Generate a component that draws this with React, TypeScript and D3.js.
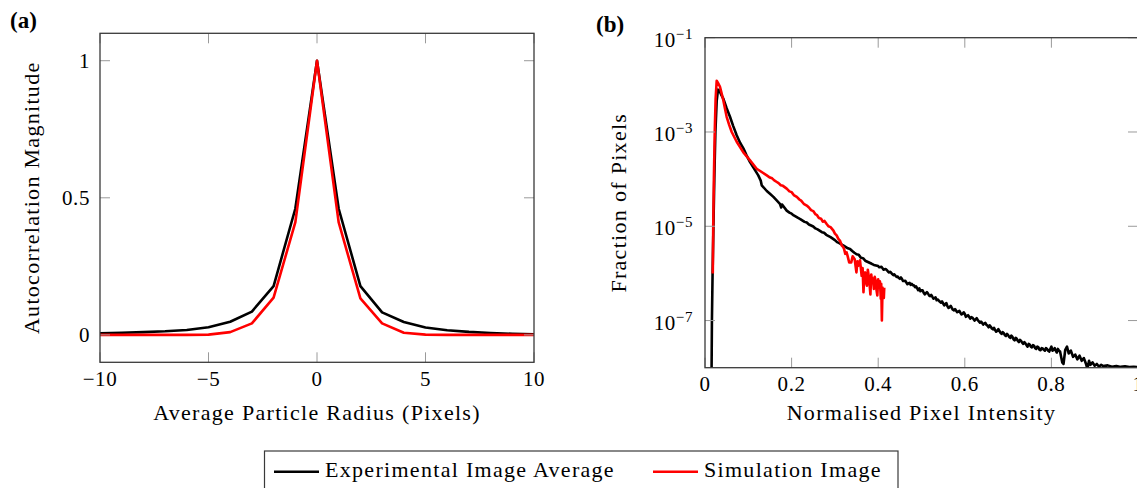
import React from 'react';
import * as d3 from 'd3';

// (a) autocorrelation, sampled at integer pixel offsets
const radiusPx = [-10, -9, -8, -7, -6, -5, -4, -3, -2, -1, 0, 1, 2, 3, 4, 5, 6, 7, 8, 9, 10];
const expAutocorr = [0.006, 0.008, 0.010, 0.013, 0.018, 0.028, 0.048, 0.085, 0.178, 0.46, 1, 0.46, 0.178, 0.082, 0.047, 0.027, 0.017, 0.011, 0.007, 0.004, 0.002];
const simAutocorr = [0, 0, 0, 0, 0, 0.001, 0.01, 0.042, 0.136, 0.41, 1, 0.41, 0.133, 0.042, 0.008, 0.001, 0, 0, 0, 0, 0];

const radiusTicks = [-10, -5, 0, 5, 10];
const autocorrTicks = [0, 0.5, 1];

// (b) intensity histograms [normalised intensity, fraction of pixels]
const expHist: [number, number][] = [
  [0.015, 5e-9], [0.016, 1e-7], [0.0175, 1e-6], [0.0195, 1e-5], [0.0215, 1e-4], [0.024, 1e-3],
  [0.027, 4.5e-3], [0.030, 7.9e-3], [0.033, 7.6e-3], [0.037, 6.3e-3], [0.0423, 5.1e-3], [0.050, 3.2e-3],
  [0.0577, 2.1e-3], [0.065, 1.35e-3], [0.0732, 8.5e-4], [0.081, 5.9e-4], [0.0886, 4.5e-4], [0.096, 3.2e-4],
  [0.104, 2.3e-4], [0.1155, 1.55e-4], [0.123, 1.2e-4], [0.1287, 9.3e-5], [0.131, 7.4e-5], [0.1427, 5.6e-5],
  [0.150, 4.9e-5], [0.158, 4.2e-5], [0.165, 3.6e-5], [0.173, 3.0e-5], [0.176, 2.5e-5], [0.178, 2.9e-5],
  [0.1887, 2.15e-5], [0.195, 1.95e-5], [0.200, 1.85e-5], [0.205, 1.7e-5], [0.210, 1.6e-5], [0.215, 1.5e-5],
  [0.220, 1.42e-5], [0.230, 1.24e-5], [0.235, 1.2e-5], [0.240, 1.09e-5], [0.250, 9.9e-6], [0.255, 9.0e-6],
  [0.260, 8.6e-6], [0.270, 7.5e-6], [0.275, 7.3e-6], [0.280, 6.6e-6], [0.290, 5.9e-6], [0.300, 5.1e-6],
  [0.305, 4.6e-6], [0.310, 4.4e-6], [0.320, 3.9e-6], [0.330, 3.4e-6], [0.335, 3.3e-6], [0.340, 3.0e-6],
  [0.345, 2.75e-6], [0.350, 2.55e-6], [0.355, 2.5e-6], [0.360, 2.14e-6], [0.365, 2.1e-6], [0.370, 1.86e-6],
  [0.380, 1.68e-6], [0.385, 1.6e-6], [0.390, 1.51e-6], [0.400, 1.43e-6], [0.405, 1.36e-6], [0.410, 1.29e-6],
  [0.415, 1.22e-6], [0.420, 1.17e-6], [0.425, 1.05e-6], [0.430, 1.03e-6], [0.435, 9.2e-7], [0.440, 8.9e-7],
  [0.450, 7.7e-7], [0.455, 7.6e-7], [0.460, 6.9e-7], [0.465, 6.4e-7], [0.470, 6.2e-7], [0.480, 5.6e-7],
  [0.485, 5.1e-7], [0.490, 4.8e-7], [0.500, 4.4e-7], [0.505, 3.9e-7], [0.510, 3.8e-7], [0.515, 3.75e-7],
  [0.520, 3.3e-7], [0.525, 3.2e-7], [0.530, 3.0e-7], [0.535, 2.7e-7], [0.540, 2.65e-7], [0.545, 2.4e-7],
  [0.550, 2.3e-7], [0.555, 2.25e-7], [0.560, 2.0e-7], [0.565, 1.95e-7], [0.570, 1.85e-7], [0.575, 1.65e-7],
  [0.580, 1.62e-7], [0.585, 1.55e-7], [0.590, 1.45e-7], [0.595, 1.4e-7], [0.600, 1.38e-7], [0.605, 1.25e-7],
  [0.610, 1.2e-7], [0.615, 1.18e-7], [0.620, 1.08e-7], [0.625, 1.06e-7], [0.630, 1.02e-7], [0.635, 9.0e-8],
  [0.640, 8.9e-8], [0.645, 8.6e-8], [0.650, 8.1e-8], [0.655, 7.2e-8], [0.660, 7.4e-8], [0.665, 6.5e-8],
  [0.670, 6.3e-8], [0.675, 6.0e-8], [0.680, 6.0e-8], [0.685, 5.2e-8], [0.690, 5.4e-8], [0.695, 4.7e-8],
  [0.700, 4.9e-8], [0.705, 4.3e-8], [0.710, 4.5e-8], [0.715, 3.8e-8], [0.720, 4.1e-8], [0.725, 3.5e-8],
  [0.730, 3.7e-8], [0.735, 3.2e-8], [0.740, 3.3e-8], [0.745, 2.8e-8], [0.750, 3.1e-8], [0.755, 2.7e-8],
  [0.760, 2.9e-8], [0.765, 2.5e-8], [0.770, 2.7e-8], [0.775, 2.35e-8], [0.780, 2.55e-8], [0.785, 2.3e-8],
  [0.790, 2.5e-8], [0.795, 2.2e-8], [0.800, 2.8e-8], [0.805, 2.4e-8], [0.810, 2.3e-8], [0.815, 2.5e-8],
  [0.820, 2.2e-8], [0.825, 1.3e-8], [0.828, 1.2e-8], [0.832, 2.4e-8], [0.836, 2.8e-8], [0.840, 2.0e-8],
  [0.845, 2.3e-8], [0.850, 1.7e-8], [0.855, 1.9e-8], [0.860, 1.5e-8], [0.865, 1.8e-8], [0.870, 1.4e-8],
  [0.875, 1.6e-8], [0.880, 1.2e-8], [0.883, 0.95e-8], [0.887, 1.4e-8], [0.890, 1.15e-8], [0.895, 1.3e-8],
  [0.900, 1.1e-8], [0.905, 1.2e-8], [0.910, 1.05e-8], [0.915, 1.15e-8], [0.920, 1.08e-8], [0.930, 1.12e-8],
  [0.940, 1.05e-8], [0.950, 1.09e-8], [0.960, 1.04e-8], [0.970, 1.07e-8], [0.980, 1.03e-8], [0.990, 1.05e-8],
  [1.000, 1.03e-8],
];

// extra readings between the bins above, where the measured tail is noisy
const expHistNoise: [number, number][] = [
  [0.4025, 1.35e-6], [0.4075, 1.38e-6], [0.4125, 1.2e-6], [0.4175, 1.24e-6], [0.4225, 1.1e-6], [0.4275, 1.08e-6],
  [0.4325, 9.7e-7], [0.4375, 9.5e-7], [0.4425, 8.4e-7], [0.445, 8.6e-7], [0.4475, 8.0e-7], [0.4525, 8.2e-7],
  [0.4575, 6.9e-7], [0.4625, 7.0e-7], [0.4675, 5.9e-7], [0.4725, 6.3e-7], [0.475, 5.7e-7], [0.4775, 6.0e-7],
  [0.4825, 5.6e-7], [0.4875, 5.3e-7], [0.4925, 4.4e-7], [0.495, 4.8e-7], [0.4975, 4.2e-7], [0.5025, 4.4e-7],
  [0.5075, 3.6e-7], [0.5125, 4.0e-7], [0.5175, 3.4e-7], [0.5225, 3.5e-7], [0.5275, 2.9e-7], [0.5325, 3.1e-7],
  [0.5375, 2.8e-7], [0.5425, 2.5e-7], [0.5475, 2.55e-7], [0.5525, 2.1e-7], [0.5575, 2.35e-7], [0.5625, 1.85e-7],
  [0.5675, 2.05e-7], [0.5725, 1.7e-7], [0.5775, 1.75e-7], [0.5825, 1.5e-7], [0.5875, 1.6e-7], [0.5925, 1.35e-7],
  [0.5975, 1.5e-7], [0.6025, 1.2e-7], [0.6075, 1.3e-7], [0.6125, 1.1e-7], [0.6175, 1.15e-7], [0.6225, 1.0e-7],
  [0.6275, 1.12e-7], [0.6325, 9.6e-8], [0.6375, 9.5e-8], [0.6425, 8.2e-8], [0.6475, 8.9e-8], [0.6525, 7.8e-8],
  [0.6575, 7.9e-8], [0.6625, 6.8e-8], [0.6675, 7.0e-8], [0.6725, 5.8e-8], [0.6775, 6.6e-8], [0.6825, 5.5e-8],
  [0.6875, 5.7e-8], [0.6925, 4.9e-8], [0.6975, 5.2e-8], [0.7025, 4.5e-8], [0.7075, 4.8e-8], [0.7125, 4.0e-8],
  [0.7175, 4.3e-8], [0.7225, 3.7e-8], [0.7275, 3.9e-8], [0.7325, 3.4e-8], [0.7375, 3.5e-8], [0.7425, 3.0e-8],
  [0.7475, 3.2e-8], [0.7525, 2.8e-8], [0.7575, 3.0e-8], [0.7625, 2.6e-8], [0.7675, 2.8e-8], [0.7725, 2.4e-8],
  [0.7775, 2.6e-8], [0.7825, 2.4e-8], [0.7875, 2.6e-8], [0.7925, 2.3e-8], [0.7975, 2.5e-8], [0.8025, 2.3e-8],
  [0.8075, 2.6e-8], [0.8125, 2.1e-8], [0.8175, 2.3e-8],
];

const simHist: [number, number][] = [
  [0.018, 1.0e-6], [0.019, 1e-5], [0.0205, 1e-4], [0.0225, 1e-3], [0.0245, 5e-3], [0.027, 1.22e-2],
  [0.030, 1.1e-2], [0.0346, 9.1e-3], [0.0385, 6.5e-3], [0.0423, 4.7e-3], [0.046, 3.2e-3], [0.050, 2.1e-3],
  [0.056, 1.4e-3], [0.0617, 1.0e-3], [0.0732, 6.2e-4], [0.0886, 3.7e-4], [0.104, 2.5e-4], [0.1193, 1.66e-4],
  [0.1427, 1.2e-4], [0.150, 1.08e-4], [0.155, 1.04e-4], [0.160, 9.4e-5], [0.1658, 8.7e-5], [0.170, 8.2e-5],
  [0.175, 7.4e-5], [0.180, 7.2e-5], [0.1887, 6.3e-5], [0.195, 5.5e-5], [0.200, 5.3e-5], [0.205, 4.6e-5],
  [0.212, 4.2e-5], [0.218, 3.7e-5], [0.222, 3.5e-5], [0.228, 3.0e-5], [0.235, 2.75e-5], [0.240, 2.5e-5],
  [0.245, 2.2e-5], [0.250, 2.1e-5], [0.255, 1.8e-5], [0.258, 1.75e-5], [0.263, 1.5e-5], [0.268, 1.45e-5],
  [0.272, 1.25e-5], [0.276, 1.3e-5], [0.281, 1.12e-5], [0.285, 1.0e-5], [0.290, 9.6e-6], [0.2966, 8.1e-6],
  [0.300, 7.0e-6], [0.304, 6.4e-6], [0.308, 5.4e-6], [0.312, 4.9e-6], [0.316, 3.9e-6], [0.3195, 3.6e-6],
  [0.3216, 3.2e-6], [0.324, 2.6e-6], [0.327, 2.8e-6], [0.3296, 2.3e-6], [0.333, 1.7e-6], [0.3377, 1.7e-6],
  [0.341, 2.3e-6], [0.3457, 2.0e-6], [0.3497, 1.05e-6], [0.352, 1.8e-6], [0.354, 1.45e-6], [0.358, 1.9e-6],
  [0.3618, 8.9e-7], [0.364, 1.3e-6], [0.366, 4.0e-7], [0.368, 9e-7], [0.370, 1.05e-6], [0.372, 6.5e-7],
  [0.374, 5.5e-7], [0.376, 1.2e-6], [0.378, 8.9e-7], [0.380, 6e-7], [0.382, 3.6e-7], [0.384, 9.5e-7],
  [0.386, 6.5e-7], [0.388, 7.8e-7], [0.390, 4.7e-7], [0.392, 8.5e-7], [0.394, 7.1e-7], [0.396, 4.5e-7],
  [0.398, 3.4e-7], [0.400, 7.5e-7], [0.402, 5.5e-7], [0.404, 6.8e-7], [0.406, 2.9e-7], [0.407, 6.0e-7],
  [0.4085, 1.0e-7], [0.410, 5.0e-7], [0.4117, 4.0e-7], [0.413, 3.0e-7], [0.414, 5.0e-7],
];

const intensityTicks = [0, 0.2, 0.4, 0.6, 0.8, 1];
const fractionExps = [-1, -3, -5, -7];

const legendItems = [
  { label: 'Experimental Image Average', color: '#000000' },
  { label: 'Simulation Image', color: '#ff0000' },
];

const FONT = '"Liberation Serif", "Times New Roman", serif';
const FRAME = '#3a3a3a';
const TICK = '#9a9a9a';
const TICK_LEN = 10;
const LS = 1.3; // letter spacing to get closer to the width of Computer Modern

// shared box with inside ticks on all four sides
function Frame({ x, y, xTicks, yTicks }: { x: any; y: any; xTicks: number[]; yTicks: number[] }) {
  const [x0, x1] = x.range();
  const [y0, y1] = y.range();
  return (
    <g>
      {xTicks.map((t, i) => (
        <g key={'x' + i} stroke={TICK} strokeWidth={1}>
          <line x1={x(t)} x2={x(t)} y1={y0} y2={y0 - TICK_LEN} />
          <line x1={x(t)} x2={x(t)} y1={y1} y2={y1 + TICK_LEN} />
        </g>
      ))}
      {yTicks.map((t, i) => (
        <g key={'y' + i} stroke={TICK} strokeWidth={1}>
          <line x1={x0} x2={x0 + TICK_LEN} y1={y(t)} y2={y(t)} />
          <line x1={x1} x2={x1 - TICK_LEN} y1={y(t)} y2={y(t)} />
        </g>
      ))}
      <rect x={x0} y={y1} width={x1 - x0} height={y0 - y1} fill="none" stroke={FRAME} strokeWidth={1.3} />
    </g>
  );
}

export default function App() {
  // panel (a)
  const xa = d3.scaleLinear().domain([-10, 10]).range([100, 534]);
  const ya = d3.scaleLinear().domain([-0.1, 1.1]).range([362.3, 33.3]);
  const lineA = d3.line<number>().x((_, i) => xa(radiusPx[i])).y((d) => ya(d));

  // panel (b)
  const xb = d3.scaleLinear().domain([0, 1]).range([705, 1138]);
  const yb = d3.scaleLog().domain([1e-8, 1e-1]).range([367.7, 37.7]);
  const lineB = d3.line<[number, number]>().x((d) => xb(d[0])).y((d) => yb(d[1]));
  const expPoints = [...expHist, ...expHistNoise].sort((a, b) => a[0] - b[0]);

  const fmt = d3.format('');
  const minus = (v: number) => fmt(v).replace('-', '\u2212');

  return (
    <svg width={1137} height={488} style={{ position: 'absolute', left: 0, top: 0, background: '#fff' }} fontFamily={FONT}>
      <defs>
        <clipPath id="clipA">
          <rect x={100} y={33.3} width={434} height={329} />
        </clipPath>
        <clipPath id="clipB">
          <rect x={705} y={37.7} width={433} height={330} />
        </clipPath>
      </defs>

      {/* ---- (a) ---- */}
      <text x={10} y={28} fontWeight="bold" fontSize={23}>(a)</text>
      <g clipPath="url(#clipA)" fill="none" strokeWidth={2.6} strokeLinejoin="round">
        <path d={lineA(expAutocorr) || ''} stroke="#000" />
        <path d={lineA(simAutocorr) || ''} stroke="#ff0000" />
      </g>
      <Frame x={xa} y={ya} xTicks={radiusTicks} yTicks={autocorrTicks} />
      {radiusTicks.map((t) => (
        <text key={t} x={xa(t)} y={386} fontSize={21} textAnchor="middle" letterSpacing={0.6}>{minus(t)}</text>
      ))}
      {autocorrTicks.map((t) => (
        <text key={t} x={90} y={ya(t) + 7} fontSize={21} textAnchor="end" letterSpacing={0.6}>{fmt(t)}</text>
      ))}
      <text x={317} y={420} fontSize={22} textAnchor="middle" letterSpacing={LS}>Average Particle Radius (Pixels)</text>
      <text transform={`translate(39,${ya(0.5)}) rotate(-90)`} fontSize={22} textAnchor="middle" letterSpacing={LS}>Autocorrelation Magnitude</text>

      {/* ---- (b) ---- */}
      <text x={596} y={32} fontWeight="bold" fontSize={23}>(b)</text>
      <g clipPath="url(#clipB)" fill="none" strokeWidth={2.6} strokeLinejoin="round">
        <path d={lineB(expPoints) || ''} stroke="#000" />
        <path d={lineB(simHist) || ''} stroke="#ff0000" />
      </g>
      <Frame x={xb} y={yb} xTicks={intensityTicks} yTicks={fractionExps.map((e) => Math.pow(10, e))} />
      {intensityTicks.map((t) => (
        <text key={t} x={xb(t)} y={391} fontSize={21} textAnchor="middle" letterSpacing={0.6}>{fmt(t)}</text>
      ))}
      {fractionExps.map((e) => (
        <text key={e} x={693} y={yb(Math.pow(10, e)) + 9} fontSize={21} textAnchor="end" letterSpacing={0.6}>
          <tspan>10</tspan>
          <tspan fontSize={15} dy={-8}>{'\u2212' + Math.abs(e)}</tspan>
        </text>
      ))}
      <text x={921.5} y={420} fontSize={22} textAnchor="middle" letterSpacing={LS}>Normalised Pixel Intensity</text>
      <text transform={`translate(626,${(37.7 + 367.7) / 2}) rotate(-90)`} fontSize={22} textAnchor="middle" letterSpacing={LS}>Fraction of Pixels</text>

      {/* ---- legend ---- */}
      <rect x={264.5} y={451} width={633.5} height={50} fill="#fff" stroke={FRAME} strokeWidth={1.2} />
      {legendItems.map((it, i) => {
        const lx = i === 0 ? 274 : 653;
        return (
          <g key={it.label}>
            <line x1={lx} x2={lx + 45} y1={471.7} y2={471.7} stroke={it.color} strokeWidth={2.6} />
            <text x={lx + 51} y={477} fontSize={22} letterSpacing={LS}>{it.label}</text>
          </g>
        );
      })}
    </svg>
  );
}
